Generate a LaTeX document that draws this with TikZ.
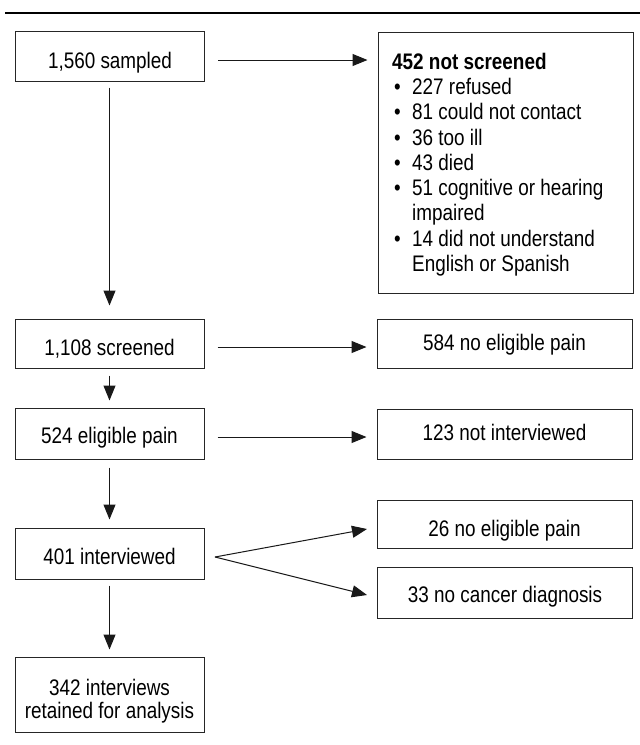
\documentclass[tikz,border=0pt]{standalone}
\usepackage{fontspec}
\setmainfont{Liberation Sans}[FakeStretch=0.84]
\usetikzlibrary{arrows.meta}
\newcommand{\bul}{\makebox[20pt][l]{\hspace{2pt}\textbullet}}
\newcommand{\ind}{\hspace*{20pt}}
\begin{document}
\begin{tikzpicture}[x=1pt,y=-1pt,
  font=\fontsize{22.5}{25.3}\selectfont,
  box/.style={draw=black!85, line width=1pt, inner sep=0pt, text depth=0pt},
  th/.style={text height=#1},
  lb/.style={box, minimum width=189pt},
  rb/.style={box, minimum width=255pt},
  arr/.style={-{Triangle[length=15pt,width=12pt]}, line width=1pt, draw=black!90}]
\useasboundingbox (0,0) rectangle (640,745);
\draw[line width=2pt] (5,12.5) -- (640,12.5);
% left column
\node[lb, th=24.6pt, minimum height=50pt] (b1) at (110,56) {1,560 sampled};
\node[lb, th=23pt, minimum height=49pt] (b2) at (109.5,343.5) {1,108 screened};
\node[lb, th=19.6pt, minimum height=51pt] (b3) at (109.5,433.5) {524 eligible pain};
\node[lb, th=21pt, minimum height=51pt] (b4) at (109.5,553.5) {401 interviewed};
\node[lb, minimum height=75pt] (b5) at (109.5,694.5) {};
\node[align=center, inner sep=0pt, font=\fontsize{22.5}{22.7}\selectfont] (t5) at (109.5,701) {342 interviews\\retained for analysis};
% right column
\node[rb, minimum height=261pt] (r1) at (505.5,162.5) {};
\node[align=left, inner sep=0pt, anchor=north west] (l1) at (392,52.6) {\textbf{452 not screened}\\
\bul 227 refused\\
\bul 81 could not contact\\
\bul 36 too ill\\
\bul 43 died\\
\bul 51 cognitive or hearing\\
\ind impaired\\
\bul 14 did not understand\\
\ind English or Spanish};
\node[rb, th=13pt, minimum height=49pt] (r2) at (504.5,343.5) {584 no eligible pain};
\node[rb, th=12pt, minimum height=50pt] (r3) at (504.5,434) {123 not interviewed};
\node[rb, th=24pt, minimum height=48pt] (r4) at (504.5,524) {26 no eligible pain};
\node[rb, th=20pt, minimum height=51pt] (r5) at (505,592.5) {33 no cancer diagnosis};
% vertical arrows
\draw[arr, shorten <=6pt, shorten >=13pt] (b1.south -| 109.5,0) -- (b2.north);
\draw[arr, shorten <=7pt, shorten >=7pt] (b2) -- (b3);
\draw[arr, shorten <=8pt, shorten >=8pt] (b3) -- (b4);
\draw[arr, shorten <=6pt, shorten >=7pt] (b4) -- (b5);
% horizontal arrows
\draw[arr, shorten <=13pt, shorten >=10pt] ([yshift=-4pt]b1.east) -- ([yshift=-4pt]b1.east -| r1.west);
\draw[arr, shorten <=13pt, shorten >=10pt] ([yshift=-3.5pt]b2.east) -- ([yshift=-3.5pt]b2.east -| r2.west);
\draw[arr, shorten <=13pt, shorten >=10pt] ([yshift=-3.5pt]b3.east) -- ([yshift=-3.5pt]b3.east -| r3.west);
% fork
\coordinate (f) at (215,557);
\coordinate (e4) at (367,529);
\coordinate (e5) at (367,595);
\draw[arr] (f) -- (e4);
\draw[arr] (f) -- (e5);
\end{tikzpicture}
\end{document}
